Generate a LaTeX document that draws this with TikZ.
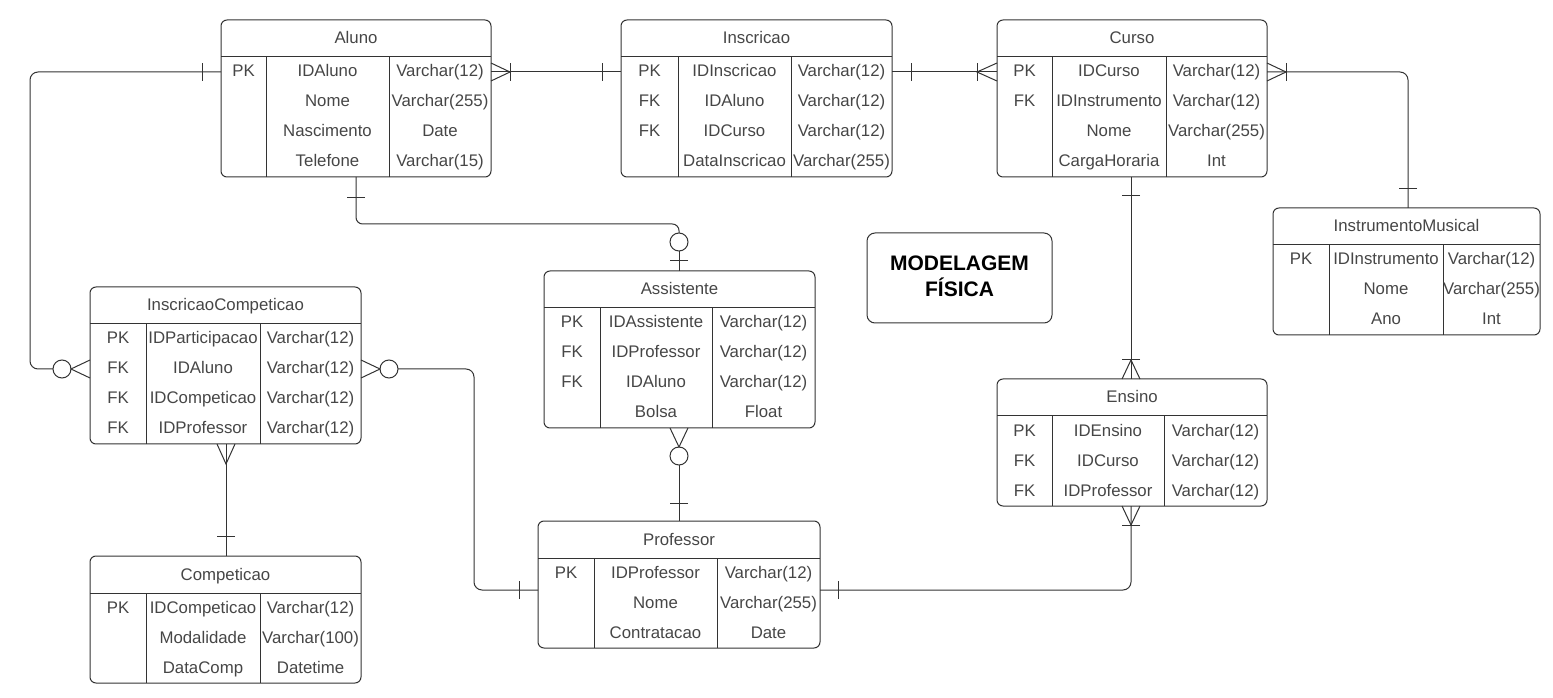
\documentclass[tikz,border=0pt]{standalone}
\usepackage{fontspec}
\setmainfont{Liberation Sans}
\usetikzlibrary{calc}
\definecolor{lncol}{RGB}{51,51,51}
\definecolor{txcol}{RGB}{70,70,70}
\tikzset{
  tbl/.style={draw=lncol, line width=0.75pt, rounded corners=4.5pt, inner sep=0pt, outer sep=0pt},
  sep/.style={draw=lncol, line width=0.75pt},
  txt/.style={font=\fontsize{12.6}{14}\selectfont, text=txcol, inner sep=0pt, text height=9pt, text depth=0pt, anchor=center},
  conn/.style={draw=lncol, line width=0.75pt},
  rconn/.style={conn, rounded corners=6pt},
  ttlbox/.style={draw=lncol, line width=0.75pt, rounded corners=6pt, inner sep=0pt, minimum width=138.75pt, minimum height=67.5pt},
  ttltxt/.style={font=\fontsize{15.75}{18}\selectfont\bfseries, text=black, inner sep=0pt, text height=11.3pt, text depth=0pt, anchor=center}
}
% #1 name, #2 left, #3 top, #4 width, #5 div1, #6 div2, #7 title, #8 rows, #9 row list
\newcommand\ertab[9]{%
  \node[tbl, anchor=north west, minimum width={#4*0.75pt}, minimum height={(37+30*#8)*0.75pt}] (#1) at (#2,#3) {};
  \draw[sep] (#2,#3+37) -- ++(#4,0);
  \draw[sep] (#2+#5,#3+37) -- ++(0,30*#8);
  \draw[sep] (#2+#6,#3+37) -- ++(0,30*#8);
  \node[txt] (#1-title) at (#2+#4/2,#3+18) {#7};
  \foreach \cK/\cF/\cT [count=\i] in {#9} {
    \node[txt] (#1-k\i) at (#2+#5/2,#3+37+30*\i-16) {\cK};
    \node[txt] (#1-f\i) at (#2+#5/2+#6/2,#3+37+30*\i-16) {\cF};
    \node[txt] (#1-t\i) at (#2+#6/2+#4/2,#3+37+30*\i-16) {\cT};
  }
}
\newcommand\crow[3]{\draw[conn] ($#1+#3$) -- ($#1+#2$) -- ($#1-#3$);}
\newcommand\tick[2]{\draw[conn] ($#1+#2$) -- ($#1-#2$);}
\begin{document}
\begin{tikzpicture}[x=0.75pt,y=-0.75pt]
\useasboundingbox (0,0) rectangle (1553,698);

\ertab{aluno}{221}{20}{270}{45}{168}{Aluno}{4}{PK/IDAluno/Varchar(12),{}/Nome/Varchar(255),{}/Nascimento/Date,{}/Telefone/Varchar(15)}
\ertab{inscricao}{621}{20}{271}{57}{170}{Inscricao}{4}{PK/IDInscricao/Varchar(12),FK/IDAluno/Varchar(12),FK/IDCurso/Varchar(12),{}/DataInscricao/Varchar(255)}
\ertab{curso}{997}{20}{270}{55}{169}{Curso}{4}{PK/IDCurso/Varchar(12),FK/IDInstrumento/Varchar(12),{}/Nome/Varchar(255),{}/CargaHoraria/Int}
\ertab{instr}{1273}{208}{267}{56}{170}{InstrumentoMusical}{3}{PK/IDInstrumento/Varchar(12),{}/Nome/Varchar(255),{}/Ano/Int}
\ertab{ensino}{997}{379}{270}{55}{167}{Ensino}{3}{PK/IDEnsino/Varchar(12),FK/IDCurso/Varchar(12),FK/IDProfessor/Varchar(12)}
\ertab{assist}{544}{271}{271}{56}{168}{Assistente}{4}{PK/IDAssistente/Varchar(12),FK/IDProfessor/Varchar(12),FK/IDAluno/Varchar(12),{}/Bolsa/Float}
\ertab{prof}{538}{521}{282}{56}{179}{Professor}{3}{PK/IDProfessor/Varchar(12),{}/Nome/Varchar(255),{}/Contratacao/Date}
\ertab{inscomp}{90}{287}{271}{56}{170}{InscricaoCompeticao}{4}{PK/IDParticipacao/Varchar(12),FK/IDAluno/Varchar(12),FK/IDCompeticao/Varchar(12),FK/IDProfessor/Varchar(12)}
\ertab{comp}{90}{556}{271}{56}{170}{Competicao}{3}{PK/IDCompeticao/Varchar(12),{}/Modalidade/Varchar(100),{}/DataComp/Datetime}

% title box
\node[ttlbox] (mf) at (959.5,278) {};
\node[ttltxt] (mf1) at (959.5,263) {MODELAGEM};
\node[ttltxt] (mf2) at (959.5,289) {FÍSICA};

% 1 Aluno - Inscricao
\coordinate (a1) at ($(aluno.north east)+(0,52)$);
\coordinate (b1) at ($(inscricao.north west)+(0,52)$);
\draw[conn] (a1) -- (b1);
\crow{(a1)}{(19,0)}{(0,9)}
\tick{(a1)+(19,0)}{(0,9)}
\tick{(b1)+(-19,0)}{(0,9)}

% 2 Inscricao - Curso
\coordinate (a2) at ($(inscricao.north east)+(0,52)$);
\coordinate (b2) at ($(curso.north west)+(0,52)$);
\draw[conn] (a2) -- (b2);
\tick{(a2)+(19,0)}{(0,9)}
\crow{(b2)}{(-20,0)}{(0,9)}
\tick{(b2)+(-20,0)}{(0,9)}

% 3 Curso - InstrumentoMusical
\coordinate (a3) at ($(curso.north east)+(0,52)$);
\coordinate (b3) at ($(instr.north west)+(135,0)$);
\draw[rconn] (a3) -| (b3);
\crow{(a3)}{(19,0)}{(0,9)}
\tick{(a3)+(19,0)}{(0,9)}
\tick{(b3)+(0,-19)}{(9,0)}

% 4 Curso - Ensino
\coordinate (a4) at ($(curso.south west)+(134,0)$);
\coordinate (b4) at ($(ensino.north west)+(134,0)$);
\draw[conn] (a4) -- (b4);
\tick{(a4)+(0,19)}{(9,0)}
\crow{(b4)}{(0,-19)}{(9,0)}
\tick{(b4)+(0,-19)}{(9,0)}

% 5 Ensino - Professor
\coordinate (a5) at ($(ensino.south west)+(134,0)$);
\coordinate (b5) at ($(prof.north east)+(0,69)$);
\draw[rconn] (a5) |- (b5);
\crow{(a5)}{(0,19)}{(9,0)}
\tick{(a5)+(0,19)}{(9,0)}
\tick{(b5)+(18,0)}{(0,9)}

% 6 Professor - InscricaoCompeticao
\coordinate (a6) at ($(prof.north west)+(0,69)$);
\coordinate (b6) at ($(inscomp.north east)+(0,82)$);
\draw[rconn] ($(b6)+(37,0)$) -| ($(a6)+(-64,0)$) -- (a6);
\tick{(a6)+(-19,0)}{(0,9)}
\crow{(b6)}{(19,0)}{(0,9)}
\draw[conn] ($(b6)+(28,0)$) circle[radius=6.75pt];

% 7 Aluno - InscricaoCompeticao
\coordinate (a7) at ($(aluno.north west)+(0,52)$);
\coordinate (b7) at ($(inscomp.north west)+(0,82)$);
\draw[rconn] ($(b7)+(-37,0)$) -| ($(a7)+(-191,0)$) -- (a7);
\tick{(a7)+(-19,0)}{(0,9)}
\crow{(b7)}{(-19,0)}{(0,9)}
\draw[conn] ($(b7)+(-28,0)$) circle[radius=6.75pt];

% 8 Aluno - Assistente
\coordinate (a8) at ($(aluno.south west)+(135,0)$);
\coordinate (b8) at ($(assist.north west)+(135,0)$);
\draw[conn, rounded corners=5pt] (a8) -- ($(a8)+(0,47)$) -| ($(b8)+(0,-38)$);
\tick{(a8)+(0,21)}{(9,0)}
\draw[conn] ($(b8)+(0,-29)$) circle[radius=6.75pt];
\draw[conn] ($(b8)+(0,-20)$) -- (b8);
\tick{(b8)+(0,-10)}{(9,0)}

% 9 Assistente - Professor
\coordinate (a9) at ($(assist.south west)+(135,0)$);
\coordinate (b9) at ($(prof.north west)+(141,0)$);
\crow{(a9)}{(0,19)}{(9,0)}
\draw[conn] ($(a9)+(0,28)$) circle[radius=6.75pt];
\draw[conn] ($(a9)+(0,37)$) -- (b9);
\tick{(b9)+(0,-18)}{(9,0)}

% 10 InscricaoCompeticao - Competicao
\coordinate (a10) at ($(inscomp.south west)+(136,0)$);
\coordinate (b10) at ($(comp.north west)+(136,0)$);
\draw[conn] (a10) -- (b10);
\crow{(a10)}{(0,20)}{(9,0)}
\tick{(b10)+(0,-20)}{(9,0)}
\end{tikzpicture}
\end{document}
